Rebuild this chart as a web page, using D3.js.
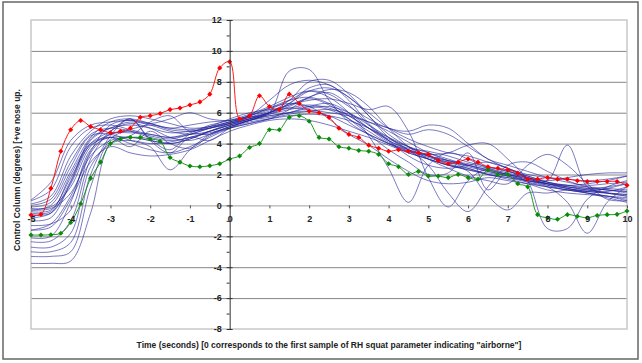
<!DOCTYPE html>
<html>
<head>
<meta charset="utf-8">
<script src="https://cdn.jsdelivr.net/npm/d3@7"></script>
<style>
  body { margin: 0; background: #fff; }
  svg { display: block; font-family: "Liberation Sans", Arial, sans-serif; }
</style>
</head>
<body>
<svg id="chart" width="642" height="363"></svg>
<script>
// time grid of the blue runs (0.5 s) and of the marked runs (0.25 s)
const tBlue = [-5,-4.5,-4,-3.5,-3,-2.5,-2,-1.5,-1,-0.5,0,0.5,1,1.5,2,2.5,3,3.5,4,4.5,5,5.5,6,6.5,7,7.5,8,8.5,9,9.5,10];
const tMarked = [-5,-4.75,-4.5,-4.25,-4,-3.75,-3.5,-3.25,-3,-2.75,-2.5,-2.25,-2,-1.75,-1.5,-1.25,-1,-0.75,-0.5,-0.25,
  0,0.25,0.5,0.75,1,1.25,1.5,1.75,2,2.25,2.5,2.75,3,3.25,3.5,3.75,4,4.25,4.5,4.75,5,5.25,5.5,5.75,6,6.25,6.5,6.75,7,7.25,
  7.5,7.75,8,8.25,8.5,8.75,9,9.25,9.5,9.75,10];

const xTicks = [-5,-4,-3,-2,-1,0,1,2,3,4,5,6,7,8,9,10];
const yTicks = [-8,-6,-4,-2,0,2,4,6,8,10,12];
const yMinor = [-7,-5,-3,-1,1,3,5,7,9,11];
const gridTicks = [-6,-4,-2,2,4,6,8,10];

// highlighted flights
const redRun = [-0.62,-0.58,1.1,3.5,4.9,5.5,5.1,4.9,4.7,4.8,5.0,5.7,5.8,5.95,6.2,6.3,6.5,6.7,7.2,8.9,
  9.3,5.6,5.8,7.1,6.4,6.2,7.2,6.6,6.1,6.0,5.7,5.0,4.6,4.4,3.9,3.7,3.5,3.6,3.5,3.4,
  3.3,2.9,2.7,2.8,3.0,2.8,2.5,2.4,2.3,2.1,1.7,1.7,1.8,1.7,1.7,1.6,1.55,1.55,1.55,1.55,1.3];
const greenRun = [-1.92,-1.92,-1.9,-1.8,-1.1,0.1,1.75,2.8,4.0,4.3,4.4,4.4,4.3,4.15,3.1,2.8,2.55,2.5,2.57,2.7,
  3.0,3.2,3.75,4.0,4.9,4.9,5.7,5.8,5.45,4.4,4.3,3.8,3.7,3.55,3.5,3.3,2.7,2.5,2.0,2.2,
  1.9,1.9,1.8,2.0,1.8,1.7,2.3,2.0,2.0,1.4,1.2,-0.6,-0.8,-0.9,-0.6,-0.7,-0.8,-0.65,-0.6,-0.58,-0.36];

// other flights
const run01 = [-3.75,-3.75,-3.6,-0.5,4.0,4.4,4.2,4.0,4.3,4.8,5.2,5.5,5.8,6.0,6.1,5.8,5.2,4.6,4.0,3.6,3.2,2.9,2.6,2.3,2.0,1.8,1.5,1.3,1.1,1.0,0.9];
const run02 = [-3.3,-3.3,-3.0,1.2,4.3,4.9,5.2,5.0,4.9,5.1,5.4,5.8,6.3,6.8,7.0,6.6,5.8,5.0,4.3,3.8,3.4,3.0,2.6,2.2,2.0,1.7,1.4,1.2,1.0,0.9,1.2];
const run03 = [-3.0,-3.0,-2.4,2.0,4.5,5.6,4.2,3.4,4.4,4.2,5.0,5.5,5.7,6.0,6.4,6.6,6.0,5.0,4.1,3.5,3.0,2.6,2.4,2.0,1.7,1.4,1.0,0.8,0.7,0.6,0.5];
const run04 = [-2.7,-2.7,-1.8,2.5,4.0,4.2,4.0,4.1,4.4,4.7,5.0,5.3,5.6,6.2,7.0,7.3,6.5,5.2,4.2,3.7,3.5,3.2,2.8,2.5,2.2,1.9,1.5,1.3,1.4,1.6,1.9];
const run05 = [-2.35,-2.3,-1.0,3.0,4.8,5.3,5.0,4.4,4.2,4.6,5.1,5.5,5.9,6.4,6.9,6.5,5.6,4.6,3.6,2.8,2.0,2.1,3.4,1.0,2.2,1.5,1.2,1.0,0.8,0.6,0.4];
const run06 = [-2.1,-2.0,0.2,3.6,4.4,4.0,3.6,3.4,3.8,4.4,5.0,5.4,5.6,5.8,5.9,5.8,5.5,5.0,4.4,3.8,3.2,2.7,2.3,2.0,1.8,1.6,1.4,1.2,1.1,1.0,0.8];
const run07 = [-1.0,-0.8,1.5,4.2,5.0,5.4,5.2,4.8,4.6,4.8,5.2,5.6,6.0,6.6,7.6,7.8,6.8,5.3,4.2,3.2,2.6,2.4,2.6,2.8,2.4,1.8,1.3,1.0,0.9,1.1,1.4];
const run08 = [-0.5,-0.4,2.0,4.0,4.4,3.8,4.8,4.0,3.7,4.5,5.0,5.3,5.6,5.9,6.1,6.2,5.9,5.4,4.8,4.1,3.4,2.9,2.5,2.2,1.9,1.6,1.4,1.3,1.2,1.1,1.0];
const run09 = [-0.3,-0.2,0.8,3.5,5.2,5.5,5.3,5.0,5.2,5.4,5.5,5.8,6.3,6.6,6.4,5.6,4.6,3.9,3.0,2.2,1.6,1.4,1.5,1.8,1.6,1.4,1.2,1.0,0.8,0.6,0.3];
const run10 = [-0.1,0.2,2.5,4.5,4.6,4.2,3.8,2.3,3.6,4.6,5.1,5.5,6.0,6.8,8.0,8.1,7.2,5.8,4.4,3.6,3.1,2.8,2.6,2.3,2.0,1.7,1.4,1.1,0.8,0.5,0.2];
const run11 = [0.1,0.6,3.2,4.8,5.6,5.8,5.6,5.3,5.0,5.1,5.4,5.7,6.0,6.5,7.0,7.5,7.3,6.4,5.0,3.8,3.0,2.4,1.9,1.6,1.4,2.6,3.3,2.6,1.4,0.4,0.3];
const run12 = [0.3,1.0,3.8,5.0,5.2,4.9,4.6,4.4,4.7,5.1,5.6,6.0,6.2,6.3,6.2,6.0,5.8,5.4,5.0,4.6,4.9,4.6,3.8,3.0,2.4,2.0,1.8,1.7,1.6,1.7,1.9];
const run13 = [-0.2,-0.1,1.2,3.8,4.6,4.8,4.5,4.3,4.6,5.0,5.4,5.7,6.0,8.7,8.8,6.8,5.4,4.6,4.0,3.5,3.2,2.9,2.7,2.4,2.1,1.8,1.5,1.2,1.0,0.8,0.6];
const run14 = [-1.6,-1.2,0.6,3.2,4.2,4.5,5.4,5.8,4.8,5.2,5.5,5.9,6.4,7.0,7.4,7.0,6.0,4.5,2.4,0.2,2.6,3.4,3.0,2.4,2.0,1.6,1.3,1.1,0.9,0.8,0.7];
const run15 = [-0.4,-0.3,1.8,3.9,4.4,4.4,4.2,4.0,4.3,4.8,5.3,5.7,6.1,6.5,6.8,6.9,6.6,6.2,6.4,4.8,1.8,-0.1,1.6,2.4,2.2,1.8,1.4,1.1,0.9,0.8,0.7];
const run16 = [0.0,0.4,2.8,4.6,5.0,4.8,4.4,4.2,4.4,4.8,5.2,5.6,6.0,6.3,6.5,6.3,5.8,5.0,4.2,3.6,3.3,3.4,3.9,4.0,3.0,1.6,-1.5,-1.5,0.4,1.2,1.6];
const run17 = [-0.6,-0.5,1.4,4.0,4.8,5.6,4.3,3.6,4.6,4.6,5.1,5.5,5.9,6.2,6.4,6.2,5.6,4.8,4.0,3.4,3.0,2.6,2.3,2.1,1.9,1.6,1.6,3.9,1.2,0.8,0.6];
const run18 = [-0.3,0.0,2.2,4.4,5.4,5.6,5.3,4.9,4.8,5.0,5.3,5.6,6.0,6.6,7.4,7.6,7.0,5.8,4.6,3.8,3.2,2.8,2.4,2.0,1.8,1.5,1.2,0.2,-1.8,0.2,1.2];
const run19 = [0.35,1.5,4.2,5.2,5.4,5.5,5.3,5.6,6.0,5.6,5.5,5.8,6.2,6.8,7.4,7.2,6.4,5.6,5.0,4.8,5.2,5.0,4.0,3.0,2.6,2.2,1.8,1.5,1.3,1.4,1.5];
const run20 = [-1.6,-1.4,0.4,2.8,3.8,3.4,3.2,3.3,3.6,4.2,4.8,5.2,5.5,5.6,5.5,5.2,4.8,4.4,3.9,3.4,3.0,2.6,2.2,0.6,-0.3,0.8,0.8,1.0,1.0,1.2,1.4];
const run21 = [-1.3,-1.2,-0.3,3.4,4.6,4.7,4.6,4.4,4.6,5.0,5.3,5.6,5.8,6.0,6.3,6.4,6.0,5.2,4.4,3.6,2.6,0.8,-0.4,1.2,2.6,2.8,2.2,1.6,1.2,1.0,0.9];
const run22 = [-0.8,-0.5,1.6,4.3,5.0,5.2,5.0,4.7,4.8,5.0,5.3,5.8,6.8,7.8,8.1,7.8,7.0,6.0,5.0,4.3,3.8,3.4,3.2,2.8,2.4,1.9,1.6,1.8,2.0,2.1,2.1];
const blueRuns = [run01,run02,run03,run04,run05,run06,run07,run08,run09,run10,run11,
  run12,run13,run14,run15,run16,run17,run18,run19,run20,run21,run22];

const svg = d3.select('#chart');
const x = d3.scaleLinear().domain([-5, 10]).range([31, 627]);
const y = d3.scaleLinear().domain([-8, 12]).range([329, 20]);

// outer frame
svg.append('rect')
  .attr('x', 3).attr('y', 2).attr('width', 635).attr('height', 357)
  .attr('fill', 'none').attr('stroke', '#666').attr('stroke-width', 1.5);

// horizontal gridlines
const grid = svg.append('g')
  .attr('transform', `translate(${x(-5)},0)`)
  .call(d3.axisLeft(y).tickValues(gridTicks).tickSize(-(x(10) - x(-5))).tickFormat(''));
grid.select('.domain').remove();
grid.selectAll('line').attr('stroke', '#858585').attr('stroke-width', 1);

// plot area border
svg.append('rect')
  .attr('x', x(-5)).attr('y', y(12))
  .attr('width', x(10) - x(-5)).attr('height', y(-8) - y(12))
  .attr('fill', 'none').attr('stroke', '#c8c8c8').attr('stroke-width', 1.5);

// runs
const blueLine = d3.line()
  .x((d, i) => x(tBlue[i]))
  .y(d => y(d))
  .curve(d3.curveCatmullRom.alpha(0.5));

const markedLine = d3.line()
  .x((d, i) => x(tMarked[i]))
  .y(d => y(d))
  .curve(d3.curveCatmullRom.alpha(0.5));

svg.append('g').selectAll('path')
  .data(blueRuns)
  .join('path')
  .attr('d', blueLine)
  .attr('fill', 'none')
  .attr('stroke', '#22229a')
  .attr('stroke-opacity', 0.8)
  .attr('stroke-width', 0.75);

const diamond = d3.symbol(d3.symbolSquare, 13);

function drawMarked(values, color) {
  const g = svg.append('g');
  g.append('path')
    .datum(values)
    .attr('d', markedLine)
    .attr('fill', 'none')
    .attr('stroke', color)
    .attr('stroke-width', 0.9);
  g.selectAll('.mk')
    .data(values)
    .join('path')
    .attr('class', 'mk')
    .attr('d', diamond)
    .attr('transform', (d, i) => `translate(${x(tMarked[i])},${y(d)}) rotate(45)`)
    .attr('fill', color);
}

drawMarked(greenRun, '#0a8c0a');
drawMarked(redRun, '#ff0000');

// x axis along y = 0
const xAxis = svg.append('g')
  .attr('transform', `translate(0,${y(0)})`)
  .call(d3.axisBottom(x).tickValues(xTicks).tickSize(3).tickSizeOuter(0).tickPadding(7).tickFormat(d => String(d)));
xAxis.select('.domain').attr('stroke', '#777').attr('stroke-opacity', 0.7);
xAxis.selectAll('.tick line').attr('stroke', '#555');

// y axis along x = 0
const yAxis = svg.append('g')
  .attr('transform', `translate(${x(0)},0)`)
  .call(d3.axisLeft(y).tickValues(yTicks).tickSize(3).tickSizeOuter(0).tickPadding(5).tickFormat(d => String(d)));
yAxis.select('.domain').attr('stroke', '#333');
yAxis.selectAll('.tick line').attr('x1', 3).attr('stroke', '#333');

const yMinorAxis = svg.append('g')
  .attr('transform', `translate(${x(0)},0)`)
  .call(d3.axisLeft(y).tickValues(yMinor).tickSize(3).tickFormat(''));
yMinorAxis.select('.domain').remove();
yMinorAxis.selectAll('line').attr('stroke', '#333');

svg.selectAll('.tick text')
  .attr('fill', '#222')
  .style('font-size', '9px')
  .style('font-weight', 'bold')
  .style('font-family', '"Liberation Sans", Arial, sans-serif');

// axis titles
svg.append('text')
  .attr('x', 329).attr('y', 348)
  .attr('text-anchor', 'middle')
  .attr('fill', '#222')
  .style('font-size', '8.5px')
  .style('font-weight', 'bold')
  .text('Time (seconds) [0 corresponds to the first sample of RH squat parameter indicating "airborne"]');

svg.append('text')
  .attr('transform', 'translate(20,170) rotate(-90)')
  .attr('text-anchor', 'middle')
  .attr('fill', '#222')
  .style('font-size', '8.5px')
  .style('font-weight', 'bold')
  .text('Control Column (degrees) [+ve nose up.');
</script>
</body>
</html>
